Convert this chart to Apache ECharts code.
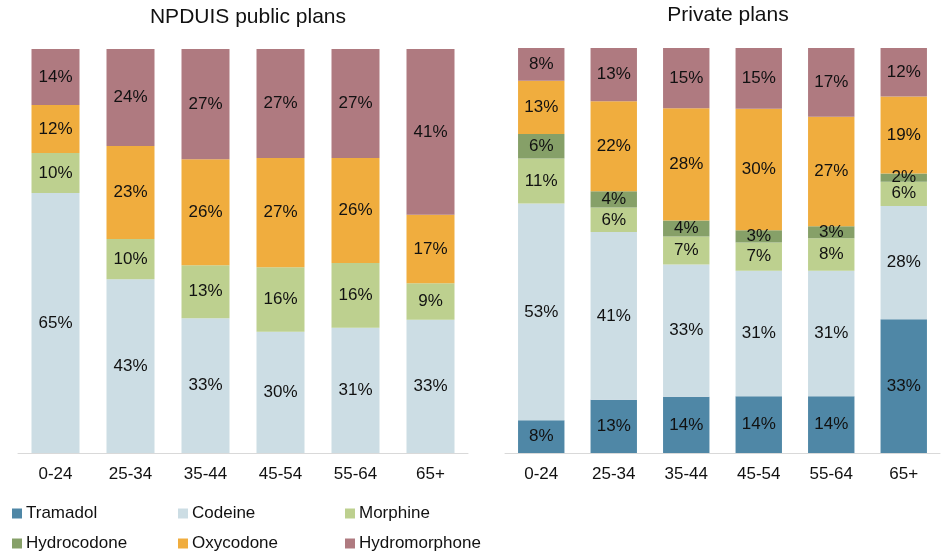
<!DOCTYPE html>
<html><head><meta charset="utf-8">
<script src="https://cdn.jsdelivr.net/npm/echarts@6/dist/echarts.min.js"></script>
<style>html,body{margin:0;padding:0;background:#fff}#c{width:948px;height:552px}</style>
</head><body><div id="c"></div>
<script>
const categories = ['0-24','25-34','35-44','45-54','55-64','65+'];
const drugs = ['Tramadol','Codeine','Morphine','Hydrocodone','Oxycodone','Hydromorphone'];
const colors = ['#4F87A6','#CCDDE4','#BDD08F','#86A068','#F0AD3E','#AF7A80'];

// Public plans (percent), per drug
const pubTramadol      = [0, 0, 0, 0, 0, 0];
const pubCodeine       = [65, 43, 33, 30, 31, 33];
const pubMorphine      = [10, 10, 13, 16, 16, 9];
const pubHydrocodone   = [0, 0, 0, 0, 0, 0];
const pubOxycodone     = [12, 23, 26, 27, 26, 17];
const pubHydromorphone = [14, 24, 27, 27, 27, 41];

// Private plans (percent), per drug
const privTramadol      = [8, 13, 14, 14, 14, 33];
const privCodeine       = [53, 41, 33, 31, 31, 28];
const privMorphine      = [11, 6, 7, 7, 8, 6];
const privHydrocodone   = [6, 4, 4, 3, 3, 2];
const privOxycodone     = [13, 22, 28, 30, 27, 19];
const privHydromorphone = [8, 13, 15, 15, 17, 12];

const pub = [pubTramadol, pubCodeine, pubMorphine, pubHydrocodone, pubOxycodone, pubHydromorphone];
const priv = [privTramadol, privCodeine, privMorphine, privHydrocodone, privOxycodone, privHydromorphone];

function totals(set){ return categories.map((_, i) => set.reduce((s, a) => s + a[i], 0)); }
const pubTot = totals(pub), privTot = totals(priv);

const FONT = 'Liberation Sans, Arial, sans-serif';
function mkSeries(set, tot, idx, stack){
  return set.map((arr, d) => ({
    name: drugs[d], type: 'bar', stack: stack,
    xAxisIndex: idx, yAxisIndex: idx,
    barWidth: '64%',
    itemStyle: {color: colors[d]},
    data: arr.map((v, i) => ({value: v / tot[i] * 100, raw: v})),
    label: {show: true, position: 'inside', fontFamily: FONT, fontSize: 17, color: '#111',
      formatter: p => p.data.raw > 0 ? p.data.raw + '%' : ''},
    emphasis: {disabled: true}
  }));
}

const chart = echarts.init(document.getElementById('c'), null, {renderer: 'canvas'});
const axisX = (gi) => ({type: 'category', gridIndex: gi, data: categories,
  axisLine: {lineStyle: {color: '#d9d9d9'}}, axisTick: {show: false},
  axisLabel: {fontFamily: FONT, fontSize: 17, color: '#111', margin: 13}});
const axisY = (gi) => ({type: 'value', gridIndex: gi, min: 0, max: 100, show: false, splitLine: {show: false}});

const legPos = [[12, 505], [178, 505], [345, 505], [12, 535], [178, 535], [345, 535]];

chart.setOption({
  animation: false,
  title: [
    {text: 'NPDUIS public plans', left: 243, top: 2, textAlign: 'center',
      textStyle: {fontFamily: FONT, fontSize: 21, fontWeight: 'normal', color: '#111'}},
    {text: 'Private plans', left: 723, top: 0, textAlign: 'center',
      textStyle: {fontFamily: FONT, fontSize: 21, fontWeight: 'normal', color: '#111'}}
  ],
  grid: [
    {left: 18, width: 450, top: 49, height: 404},
    {left: 505, width: 435, top: 48, height: 405}
  ],
  xAxis: [axisX(0), axisX(1)],
  yAxis: [axisY(0), axisY(1)],
  legend: drugs.map((d, k) => ({
    data: [d], left: legPos[k][0], top: legPos[k][1], padding: 0,
    itemWidth: 10, itemHeight: 10, icon: 'rect',
    textStyle: {fontFamily: FONT, fontSize: 17, color: '#111', padding: [0, 0, 0, -1]},
    selectedMode: false
  })),
  series: [...mkSeries(pub, pubTot, 0, 'pub'), ...mkSeries(priv, privTot, 1, 'priv')]
});
</script></body></html>
